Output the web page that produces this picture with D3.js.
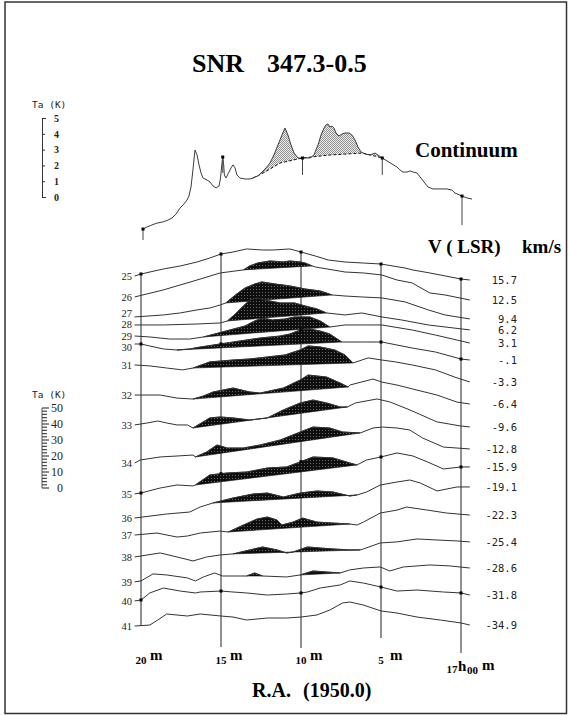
<!DOCTYPE html>
<html><head><meta charset="utf-8">
<script src="https://cdn.jsdelivr.net/npm/d3@7"></script>
<style>body{margin:0;background:#fff}svg{display:block}</style>
</head><body><svg id="c" width="569" height="715"></svg>
<script>
// ---------------- DATA ----------------
const titleParts = ["SNR", "347.3-0.5"];
const raTicks = [20, 15, 10, 5, 0];                 // R.A. minutes
const raTickNums = ["20", "15", "10", "5", "17"];
const contRuler = [0, 1, 2, 3, 4, 5];                 // Ta (K) continuum
const lineRulerMajor = [0, 10, 20, 30, 40, 50];       // Ta (K) lines
// continuum: [RA min, Ta K]
const continuum = [[20,-2.03],[19.75,-1.9],[19.44,-1.77],[19.12,-1.65],[18.75,-1.58],[18.43,-1.46],[18.18,-1.33],[17.93,-1.08],[17.68,-0.7],[17.43,-0.44],[17.24,-0.19],[17.12,0.06],[16.99,0.63],[16.87,1.71],[16.74,2.97],[16.61,2.66],[16.49,2.03],[16.36,1.52],[16.24,1.2],[15.99,1.08],[15.8,0.95],[15.61,0.7],[15.42,0.57],[15.23,0.7],[15.14,1.2],[15.06,2.03],[15,2.53],[14.94,2.03],[14.9,1.39],[14.8,1.2],[14.67,1.46],[14.48,1.84],[14.36,2.03],[14.23,1.84],[14.11,1.39],[13.92,1.2],[13.6,1.14],[13.29,1.14],[13.1,1.2],[12.98,1.27],[12.79,1.33],[12.54,1.58],[12.29,1.84],[12.04,2.15],[11.79,2.66],[11.54,3.29],[11.29,3.92],[11.1,4.37],[10.91,3.92],[10.72,3.29],[10.53,2.78],[10.28,2.47],[10,2.47],[9.78,2.47],[9.53,2.47],[9.28,2.66],[9.03,3.29],[8.84,3.92],[8.65,4.37],[8.53,4.56],[8.4,4.62],[8.28,4.43],[8.15,4.49],[8.03,4.37],[7.9,4.05],[7.71,3.86],[7.52,3.99],[7.34,4.05],[7.08,4.05],[6.9,3.92],[6.71,3.61],[6.52,3.16],[6.33,2.85],[6.08,2.72],[5.77,2.66],[5.45,2.78],[5.27,2.66],[5,2.47],[4.7,2.28],[4.39,2.09],[4.08,1.9],[3.89,1.71],[3.7,1.58],[3.45,1.58],[3.26,1.65],[3.07,1.58],[2.82,1.52],[2.63,1.27],[2.38,0.95],[2.13,0.63],[1.82,0.51],[1.38,0.51],[0.94,0.51],[0.63,0.44],[0.44,0.25],[0,0.06],[-0.31,-0.06],[-0.63,-0.13]];
const contBaseline = [[13.1,1.2],[12.35,1.58],[11.41,2.15],[10,2.47],[8.28,2.66],[6.21,2.78],[5,2.47]];

// line profiles
const rowNumbers = [25,26,27,28,29,30,31,32,33,34,35,36,37,38,39,40,41];
const velocities = ["15.7","12.5","9.4","6.2","3.1","-.1","-3.3","-6.4","-9.6","-12.8","-15.9","-19.1","-22.3","-25.4","-28.6","-31.8","-34.9"];
const rowLevels = [132.5,119.4,106.9,101.9,95,90,76.9,58.1,39.4,17.5,-3.1,-18.75,-29.4,-43.1,-58.1,-70,-86.25];
const row25 = [[20.4,0],[20,1.25],[18.6,4.4],[17.55,6.25],[16.5,8.75],[15.7,11.25],[15,13.75],[14.25,15],[13.4,16.9],[12.4,16.25],[11.75,16.25],[10.7,16.9],[10,15],[9.1,12.5],[8.3,10],[7.25,8.75],[6.1,8.1],[5,7.5],[3.5,5],[3,3.75],[1.95,1.9],[0,-1.9],[-0.55,-2.5]];
const row26 = [[20.4,0],[18.6,4.4],[16.5,10.6],[15.05,15],[13.6,16.9],[13.2,19.4],[12.7,21.25],[11.95,22.5],[11.1,21.9],[10.7,22.5],[10.05,21.9],[9.75,21.25],[9.3,19.4],[9.1,18.75],[7.25,15.6],[6.1,15],[4.95,13.75],[4,10.6],[3.05,8.75],[1.95,2.5],[1,1.25],[-0.55,-1.9]];
const row27 = [[20.4,0],[18.6,1.25],[17.55,2.5],[16.5,4.4],[15.7,5.6],[15.05,7.5],[14.7,8.75],[14.1,13.75],[13.5,18.1],[12.9,20.6],[12.45,21.9],[11.6,20.6],[10.7,19.4],[9.75,17.5],[8.8,16.25],[8.05,13.75],[7.25,13.1],[6.2,12.5],[4.95,11.9],[3.5,9.4],[2.05,4.4],[1,1.25],[-0.55,-1.25]];
const row28 = [[20.4,0],[18.6,0],[16.5,0.6],[15.05,1.25],[14.6,2.5],[14.1,6.9],[13.6,11.9],[13.2,15.6],[12.75,16.9],[12.25,15.6],[11.3,13.75],[10.4,13.75],[9.75,11.9],[9,10],[8.4,7.5],[7.25,6.25],[6.2,7.5],[4.95,5],[3.7,3.1],[2.05,0],[-0.55,-3.1]];
const row29 = [[20.4,0],[19.45,-0.6],[18.2,-1.9],[16.95,-1.9],[16.1,-0.6],[15.4,1.25],[14.45,3.75],[13.5,6.25],[12.9,9.4],[12.4,11.25],[11.8,10],[11,10.6],[10.4,11.9],[9.45,11.9],[8.8,9.4],[8.2,5.6],[7.25,6.9],[6.2,6.9],[4.95,6.9],[3.05,3.75],[1.6,0.6],[-0.55,-4.4]];
const row30 = [[20.4,0],[20,0],[19.45,-1.25],[18.6,-3.1],[17.75,-3.75],[16.95,-3.1],[16.3,-1.9],[15.05,0],[13.8,1.9],[12.55,3.75],[11.3,5],[10.7,6.25],[10.05,8.75],[9.45,9.4],[8.8,8.1],[8.2,6.25],[7.45,1.25],[6.2,1.25],[4.95,1.25],[3.05,-2.5],[1.6,-5],[0,-9.4],[-0.55,-10]];
const row31 = [[20.4,0],[19.45,-0.6],[18.4,-1.9],[17.4,-3.1],[16.75,-1.9],[15.7,1.9],[14.25,3.1],[13.2,3.75],[12.1,5],[11,6.25],[10.05,9.4],[9.55,11.9],[8.8,11.25],[7.9,9.4],[7.25,6.25],[6.75,1.25],[5.8,4.4],[4.95,3.1],[4.1,1.9],[3.05,0],[1.6,-3.1],[0.25,-8.1],[-0.55,-10.6]];
const row32 = [[20.4,0],[18.8,0],[17.75,-1.9],[16.75,-2.5],[16.1,-0.6],[15.5,1.9],[14.25,4.4],[13.2,1.9],[12.55,1.25],[11.1,4.4],[10.05,9.4],[9.55,12.5],[8.4,11.25],[7.55,7.5],[7.05,5],[6.95,6.25],[5.5,10],[4.95,8.1],[4,6.25],[2.75,3.1],[1.5,0],[0.25,-4.4],[-0.55,-5.6]];
const row33 = [[20.4,0],[19.6,1.25],[18.95,2.5],[18.4,1.25],[17.75,0],[17.1,0],[16.75,-1.9],[15.7,4.4],[15.05,5],[14.25,4.4],[13.2,3.1],[12.1,4.4],[11.1,9.4],[10.05,13.75],[9.25,15.6],[8.4,13.75],[7.55,11.25],[7.1,11.25],[6.6,13.75],[5.25,16.25],[4.45,14.4],[3.2,9.4],[1.5,1.9],[0.05,-0.6],[-0.55,-1.25]];
const row34 = [[20.4,-1.9],[20.05,0],[18.8,1.9],[17.75,2.5],[16.75,3.1],[16.6,1.9],[15.9,5],[15.25,9.4],[14.6,7.5],[13.6,7.5],[12.55,9.4],[11.3,12.5],[10.05,17.5],[9.25,20.6],[8.2,20],[7.4,17.5],[6.3,16.9],[5.5,20],[4.9,20.6],[4,20],[3.2,18.75],[2.4,13.75],[1.1,8.1],[-0.55,6.9]];
const row35 = [[20.4,-0.6],[20,0],[18.8,3.1],[17.75,5],[16.75,4.4],[16.6,5],[15.7,11.25],[14.6,12.5],[13.4,13.1],[12.1,15.6],[10.9,16.25],[10.05,19.4],[9.25,22.5],[8,21.9],[6.95,18.75],[6.5,17.5],[5.9,20.6],[5,22.5],[4,25],[3,23.1],[2.1,19.4],[1.1,15],[0,16.25],[-0.55,16.25]];
const row36 = [[20.4,0],[18.4,2.5],[16.95,3.75],[16.3,6.9],[15.5,9.4],[14.25,12.5],[13,15],[12.1,15.6],[11.1,13.1],[10.05,15.6],[9,16.9],[8,16.25],[6.95,13.75],[6.5,14.4],[5.9,16.25],[5.05,20.6],[4,22.5],[3.2,23.75],[2.55,21.9],[1.5,16.9],[0.25,19.4],[-0.55,19.4]];
const row37 = [[20.4,0],[19,1.25],[17.75,-1.25],[17.1,-0.6],[16.3,1.25],[15.05,2.5],[14.55,1.9],[13.6,6.25],[12.75,10],[12.1,11.25],[11.5,9.4],[11.2,6.25],[10.5,8.1],[9.9,10.6],[9,8.1],[8,7.5],[6.95,6.9],[6.5,6.25],[6.1,8.1],[5.05,13.75],[4,15.6],[3.4,17.5],[2.1,15.6],[0.9,13.75],[-0.55,12.5]];
const row38 = [[20.4,0],[18.8,2.5],[17.75,0],[16.75,-2.5],[15.9,0],[15.05,1.25],[14.25,1.9],[13.2,4.4],[12.4,6.25],[11.5,4.4],[10.9,2.5],[10.5,3.1],[9.6,6.25],[8.8,5.6],[8,5],[6.95,4.4],[6.3,4.4],[6.1,5],[5.05,8.75],[4,9.4],[2.75,11.25],[1.5,10.6],[0.25,10],[-0.55,9.4]];
const row39 = [[20.4,-0.6],[20,0],[19.25,4.4],[18.4,3.75],[17.1,1.9],[16.6,0],[16.1,2.5],[15.4,5],[14.9,3.1],[13.4,3.1],[12.9,5],[12.4,3.1],[10.9,2.5],[10.05,3.75],[9.25,6.25],[8.4,5.6],[7.55,5],[6.95,6.9],[6.1,8.1],[5.05,8.75],[4.45,6.25],[3.6,8.75],[1.95,10],[0.7,9.4],[-0.55,8.1]];
const row40 = [[20.4,-0.6],[20,0],[19.45,4.4],[18.6,7.5],[17.55,5.6],[16.6,4.4],[16.3,5],[15,5.6],[14.25,5],[13.4,4.4],[12.1,3.1],[10.9,3.75],[10,4.4],[9.6,5],[8.8,7.5],[7.55,9.4],[6.95,11.9],[6.1,10.6],[5,8.1],[4,5.6],[2.75,6.25],[1.1,5],[0,4.4],[-0.55,3.1]];
const row41 = [[20.4,0],[19.45,0.6],[18.95,3.75],[18.4,7.5],[17.1,6.25],[16.3,7.5],[15,6.25],[14.25,5.6],[13.4,3.75],[12.1,5],[10.9,5],[10,5.6],[9,6.9],[8.2,10],[7.4,14.4],[6.95,15],[6.1,13.1],[5,9.4],[4,8.1],[2.75,5.6],[1.3,3.75],[0,1.9],[-0.55,0.6]];
const rowProfiles = [row25,row26,row27,row28,row29,row30,row31,row32,row33,row34,row35,row36,row37,row38,row39,row40,row41];
// emission ranges (RA start, RA end) filled down to a straight baseline
const rowEmission = [[],[[13.6,9.3]],[[14.7,8.05]],[[14.6,8.4]],[[16.1,8.2]],[[17.75,7.45]],[[16.75,6.75]],[[16.75,7.05]],[[16.75,7.1]],[[16.6,6.3]],[[16.6,6.5]],[[15.5,6.5]],[[14.55,6.95]],[[14.25,6.3]],[[13.4,12.4],[10.05,7.55]],[],[]];
const markerRows = [0, 5, 10, 15];

// ---------------- DRAW ----------------
const svg = d3.select("#c");
const serif = "'Liberation Serif','Times New Roman',serif";
const mono = "'DejaVu Sans Mono',monospace";

const defs = svg.append("defs");
const pd = defs.append("pattern").attr("id","dark").attr("width",3).attr("height",3).attr("patternUnits","userSpaceOnUse");
pd.append("rect").attr("width",3).attr("height",3).attr("fill","#0e0e0e");
pd.append("rect").attr("x",1).attr("y",1).attr("width",1).attr("height",1).attr("fill","#6a6a6a");
const pl = defs.append("pattern").attr("id","light").attr("width",2).attr("height",2).attr("patternUnits","userSpaceOnUse");
pl.append("rect").attr("width",2).attr("height",2).attr("fill","#eeeeee");
pl.append("rect").attr("x",0).attr("y",0).attr("width",1).attr("height",1).attr("fill","#909090");
pl.append("rect").attr("x",1).attr("y",1).attr("width",1).attr("height",1).attr("fill","#909090");

svg.append("rect").attr("x",5).attr("y",2).attr("width",561.5).attr("height",711.5)
  .attr("fill","none").attr("stroke","#333").attr("stroke-width",1.5);

const xTop = d3.scaleLinear().domain([20,0]).range([143,462]);
const yTop = d3.scaleLinear().domain([0,5]).range([197,118]);
const xLow = d3.scaleLinear().domain([20,0]).range([141,461]);
const yLow = d3.scaleLinear().domain([0,50]).range([488,408]);

function valAt(arr, ra){
  for (let i=0;i<arr.length-1;i++){
    const a=arr[i], b=arr[i+1];
    if (a[0]>=ra && b[0]<=ra){ const t=(a[0]-ra)/(a[0]-b[0]||1); return a[1]+(b[1]-a[1])*t; }
  }
  return arr[arr.length-1][1];
}

// title
svg.append("text").attr("x",192).attr("y",72).text(titleParts[0])
  .attr("font-family",serif).attr("font-weight","bold").attr("font-size",26);
svg.append("text").attr("x",267).attr("y",72).text(titleParts[1])
  .attr("font-family",serif).attr("font-weight","bold").attr("font-size",26);

// continuum ruler
svg.append("text").attr("x",32).attr("y",108).text("Ta (K)")
  .attr("font-family",mono).attr("font-size",9.5).attr("fill","#222");
const ax = svg.append("g").attr("transform","translate(42,0)")
  .call(d3.axisRight(yTop).tickValues(contRuler).tickSize(3).tickSizeOuter(4).tickPadding(9).tickFormat(d3.format("d")));
ax.selectAll("path,line").attr("stroke","#333");
ax.selectAll("text").attr("font-family",serif).attr("font-weight","bold").attr("font-size",10).attr("fill","#222");

// continuum fill
const line = d3.line();
const b0 = contBaseline[0][0], b1 = contBaseline[contBaseline.length-1][0];
const inner = continuum.filter(p => p[0] < b0 && p[0] > b1);
const poly = [contBaseline[0], ...inner, contBaseline[contBaseline.length-1], ...contBaseline.slice().reverse()]
  .map(p => [xTop(p[0]), yTop(p[1])]);
svg.append("path").attr("d", line(poly)+"Z").attr("fill","url(#light)").attr("stroke","none");
svg.append("path").attr("d", line(contBaseline.map(p=>[xTop(p[0]),yTop(p[1])])))
  .attr("fill","none").attr("stroke","#111").attr("stroke-width",1).attr("stroke-dasharray","3,2");
svg.append("path").attr("d", line(continuum.map(p=>[xTop(p[0]),yTop(p[1])])))
  .attr("fill","none").attr("stroke","#3c3c3c").attr("stroke-width",1);
const contTickLen = [11,16,17,17,29];
raTicks.forEach((t,i)=>{
  const x = xTop(t), y = yTop(valAt(continuum,t));
  svg.append("line").attr("x1",x).attr("x2",x).attr("y1",y).attr("y2",y+contTickLen[i]).attr("stroke","#444");
  svg.append("rect").attr("x",x-1.5).attr("y",y-1.5).attr("width",3).attr("height",3).attr("fill","#000");
});
svg.append("text").attr("x",415).attr("y",157).text("Continuum")
  .attr("font-family",serif).attr("font-weight","bold").attr("font-size",21);

svg.append("text").attr("x",428).attr("y",253).text("V ( LSR)")
  .attr("font-family",serif).attr("font-weight","bold").attr("font-size",19);
svg.append("text").attr("x",522).attr("y",253).text("km/s")
  .attr("font-family",serif).attr("font-weight","bold").attr("font-size",19);

// line ruler
svg.append("text").attr("x",32).attr("y",398).text("Ta (K)")
  .attr("font-family",mono).attr("font-size",9.5).attr("fill","#222");
const rg = svg.append("g");
rg.append("line").attr("x1",42).attr("x2",42).attr("y1",yLow(50)).attr("y2",yLow(0)).attr("stroke","#555");
d3.range(0,51,2).forEach(v=>{
  rg.append("line").attr("x1",42).attr("x2",v%10===0?49:47).attr("y1",yLow(v)).attr("y2",yLow(v))
    .attr("stroke","#444").attr("stroke-width",1.2);
});
lineRulerMajor.forEach(v=>{
  rg.append("text").attr("x",63).attr("y",yLow(v)+4).attr("text-anchor","end").text(v)
    .attr("font-family",serif).attr("font-size",12).attr("fill","#222");
});

// RA vertical lines
const lowLineBottom = [626,647,648,638,653];
raTicks.forEach((t,i)=>{
  const x = xLow(t);
  svg.append("line").attr("x1",x).attr("x2",x)
    .attr("y1", yLow(rowLevels[0]+valAt(row25,t))).attr("y2", lowLineBottom[i])
    .attr("stroke","#222").attr("stroke-width",1);
});

// emission fills
rowProfiles.forEach((prof,r)=>{
  rowEmission[r].forEach(seg=>{
    const pts = prof.filter(p => p[0] <= seg[0]+1e-6 && p[0] >= seg[1]-1e-6)
      .map(p => [xLow(p[0]), yLow(rowLevels[r]+p[1])]);
    svg.append("path").attr("d", line(pts)+"Z").attr("fill","url(#dark)")
      .attr("stroke","#111").attr("stroke-width",0.6);
  });
});
// traces + labels (small nudges keep the crowded 27-30 labels apart)
const labelNudge = [0,0,-4,-1,0,3,0,0,0,0,0,0,0,0,0,0,0];
rowProfiles.forEach((prof,r)=>{
  svg.append("path").attr("d", line(prof.map(p=>[xLow(p[0]), yLow(rowLevels[r]+p[1])])))
    .attr("fill","none").attr("stroke","#333").attr("stroke-width",1);
  const yl = yLow(rowLevels[r]+prof[0][1]);
  const yr = yLow(rowLevels[r]+prof[prof.length-1][1]);
  svg.append("text").attr("x",132).attr("y",yl+4+labelNudge[r]).attr("text-anchor","end").text(rowNumbers[r])
    .attr("font-family",serif).attr("font-size",10.5).attr("fill","#222");
  svg.append("text").attr("x",517).attr("y",yr+4).attr("text-anchor","end").text(velocities[r])
    .attr("font-family",mono).attr("font-size",10.5).attr("fill","#222");
});
// markers
markerRows.forEach(r=>{
  raTicks.forEach(t=>{
    const x = xLow(t), y = yLow(rowLevels[r]+valAt(rowProfiles[r],t));
    svg.append("rect").attr("x",x-1.5).attr("y",y-1.5).attr("width",3).attr("height",3).attr("fill","#000");
  });
});

// RA tick labels
raTicks.forEach((t,i)=>{
  const x = xLow(t);
  if (t !== 0){
    svg.append("text").attr("x",x).attr("y",664).attr("text-anchor","middle").text(raTickNums[i])
      .attr("font-family",serif).attr("font-weight","bold").attr("font-size",11);
    svg.append("text").attr("x",x+9).attr("y",660).text("m")
      .attr("font-family",serif).attr("font-weight","bold").attr("font-size",15);
  } else {
    svg.append("text").attr("x",x-9).attr("y",673).attr("text-anchor","middle").text(raTickNums[i])
      .attr("font-family",serif).attr("font-weight","bold").attr("font-size",11);
    svg.append("text").attr("x",x-3).attr("y",671).text("h")
      .attr("font-family",serif).attr("font-weight","bold").attr("font-size",15);
    svg.append("text").attr("x",x+6).attr("y",674).text("00")
      .attr("font-family",serif).attr("font-weight","bold").attr("font-size",11);
    svg.append("text").attr("x",x+21).attr("y",670).text("m")
      .attr("font-family",serif).attr("font-weight","bold").attr("font-size",15);
  }
});
svg.append("text").attr("x",252).attr("y",697).text("R.A.")
  .attr("font-family",serif).attr("font-weight","bold").attr("font-size",20);
svg.append("text").attr("x",303).attr("y",697).text("(1950.0)")
  .attr("font-family",serif).attr("font-weight","bold").attr("font-size",20);
</script>
</body></html>
